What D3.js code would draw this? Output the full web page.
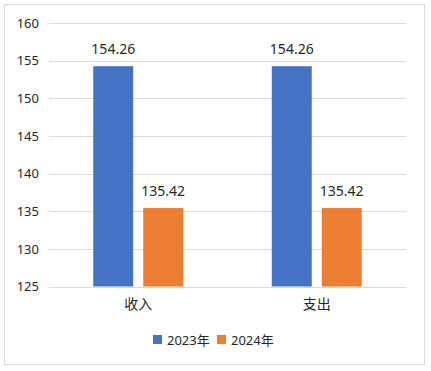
<!DOCTYPE html>
<html>
<head>
<meta charset="utf-8">
<script src="https://cdn.jsdelivr.net/npm/d3@7"></script>
<style>
  html, body { margin: 0; padding: 0; background: #fff; }
  svg text { font-family: "Noto Sans", "Noto Sans CJK SC", sans-serif; fill: #262626; }
</style>
</head>
<body>
<div id="chart"></div>
<script>
// Chart data
const categories = ["收入", "支出"];
const seriesNames = ["2023年", "2024年"];
const values2023 = [154.26, 154.26];
const values2024 = [135.42, 135.42];
const yTicks = [125, 130, 135, 140, 145, 150, 155, 160];
const colors = ["#4472C4", "#ED7D31"];

const W = 431, H = 371;
const margin = { top: 23, right: 25, bottom: 84.5, left: 49 };
const width = 406 - margin.left, height = 286.5 - margin.top;

const svg = d3.select("#chart").append("svg")
    .attr("width", W)
    .attr("height", H);

// outer frame
svg.append("rect")
    .attr("x", 4.5).attr("y", 4.5)
    .attr("width", 420).attr("height", 360)
    .attr("fill", "#fff")
    .attr("stroke", "#d9d9d9");

const g = svg.append("g").attr("transform", `translate(${margin.left},${margin.top})`);

const rows = categories.map((c, i) => ({ category: c, values: [values2023[i], values2024[i]] }));

// Scales
const x0 = d3.scaleBand().domain(categories).range([0, width]).paddingInner(0.496).paddingOuter(0.248);
const x1 = d3.scaleBand().domain(seriesNames).range([0, x0.bandwidth()]).paddingInner(0.2);
const y = d3.scaleLinear().domain([125, 160]).range([height, 0]);

// Gridlines
g.append("g")
    .selectAll("line")
    .data(yTicks)
    .enter()
    .append("line")
    .attr("x1", 0).attr("x2", width)
    .attr("y1", d => Math.round(y(d)) + 0.5)
    .attr("y2", d => Math.round(y(d)) + 0.5)
    .attr("stroke", "#d9d9d9");

// Y axis labels
const yAxis = g.append("g")
    .call(d3.axisLeft(y).tickValues(yTicks).tickSize(0).tickPadding(10));
yAxis.select(".domain").remove();
yAxis.selectAll("text").style("font-size", "13px").attr("fill", "#262626");

// X axis labels
const xAxis = g.append("g")
    .attr("transform", `translate(0,${height})`)
    .call(d3.axisBottom(x0).tickSize(0).tickPadding(13));
xAxis.select(".domain").remove();
xAxis.selectAll("text").style("font-size", "14px").attr("fill", "#262626");

// Bars
const groups = g.selectAll(".grp")
    .data(rows)
    .enter()
    .append("g")
    .attr("class", "grp")
    .attr("transform", d => `translate(${x0(d.category)},0)`);

groups.selectAll("rect")
    .data(d => d.values.map((v, i) => ({ key: seriesNames[i], value: v, i })))
    .enter()
    .append("rect")
    .attr("x", d => x1(d.key))
    .attr("y", d => y(d.value))
    .attr("width", x1.bandwidth())
    .attr("height", d => height - y(d.value))
    .attr("fill", d => colors[d.i]);

// Value labels
groups.selectAll(".label")
    .data(d => d.values.map((v, i) => ({ key: seriesNames[i], value: v })))
    .enter()
    .append("text")
    .attr("class", "label")
    .attr("x", d => x1(d.key) + x1.bandwidth() / 2)
    .attr("y", d => y(d.value) - 12)
    .attr("text-anchor", "middle")
    .style("font-size", "14px")
    .text(d => d.value.toFixed(2));

// Legend
const legend = svg.append("g").attr("transform", "translate(0,340)");
const legendX = [153, 217];
seriesNames.forEach((s, i) => {
    legend.append("rect")
        .attr("x", legendX[i]).attr("y", -5)
        .attr("width", 9).attr("height", 9)
        .attr("fill", colors[i]);
    legend.append("text")
        .attr("x", legendX[i] + 14).attr("y", 0)
        .attr("dy", "0.35em")
        .style("font-size", "13px")
        .text(s);
});
</script>
</body>
</html>
